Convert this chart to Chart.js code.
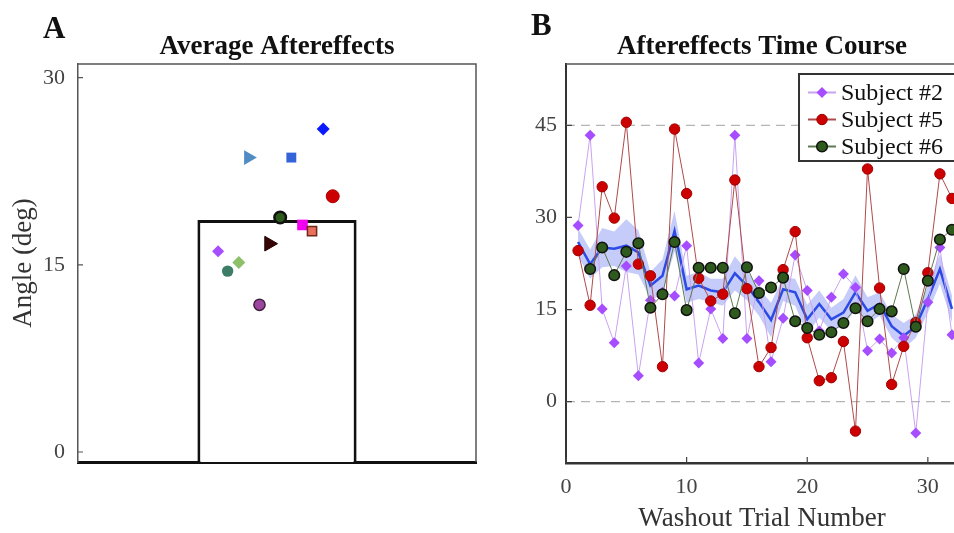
<!DOCTYPE html>
<html>
<head>
<meta charset="utf-8">
<title>Aftereffects</title>
<script src="https://cdn.jsdelivr.net/npm/chart.js@4.4.0/dist/chart.umd.min.js"></script>
<style>
  html, body { margin: 0; padding: 0; background: #fff; overflow: hidden; }
  body { width: 954px; height: 533px; position: relative; }
  canvas { position: absolute; top: 0; }
  #avgChart { left: 0; }
  #courseChart { left: 510px; }
  .panel-tag { position: absolute; font: bold 31px 'Liberation Serif', serif; line-height: 31px; color: #111; }
</style>
</head>
<body>
<canvas id="avgChart" width="500" height="533"></canvas>
<canvas id="courseChart" width="500" height="533"></canvas>
<div class="panel-tag" style="left:43px;top:12px">A</div>
<div class="panel-tag" style="left:531px;top:9px">B</div>
<script>
// ---- A: average aftereffect per subject ----
const subjectAverages = [25.9, 23.6, 23.6, 20.5, 18.8, 18.2, 17.7, 16.7, 16.1, 15.2, 14.5, 11.8];
const subjectJitter = [0.29, -0.18, 0.09, 0.35, 0.02, 0.16, 0.22, -0.05, -0.37, -0.24, -0.31, -0.11];
const groupAverage = 18.6;
const angleTicksA = [0, 15, 30];

// ---- B: washout time course ----
const trials = [1, 2, 3, 4, 5, 6, 7, 8, 9, 10, 11, 12, 13, 14, 15, 16,
  17, 18, 19, 20, 21, 22, 23, 24, 25, 26, 27, 28, 29, 30, 31, 32];
const subject2 = [28.7, 43.4, 15.1, 9.6, 22.1, 4.2, 16.5, 17.8, 17.2, 25.4, 6.3, 15.1, 10.3, 43.4, 10.3, 19.7,
  6.5, 13.6, 23.9, 18.1, 11.5, 17.0, 20.8, 18.6, 8.3, 10.2, 7.9, 10.4, -5.1, 16.2, 25.1, 10.9];
const subject5 = [24.6, 15.7, 35.0, 29.9, 45.5, 22.4, 20.5, 5.7, 44.4, 33.9, 20.1, 16.4, 17.5, 36.1, 18.4, 5.7,
  8.8, 21.5, 27.7, 10.4, 3.4, 3.9, 9.8, -4.8, 37.9, 18.5, 2.8, 9.0, 12.9, 21.0, 37.1, 33.1];
const subject6 = [null, 21.6, 25.1, 20.6, 24.4, 25.8, 15.3, 17.5, 26.0, 14.9, 21.8, 21.8, 21.8, 14.4, 21.9, 17.7,
  18.6, 20.2, 13.1, 12.0, 10.9, 11.3, 12.8, 15.2, 13.1, 15.1, 14.7, 21.6, 12.2, 19.7, 26.4, 28.0];
const meanAngle = [26.0, 22.4, 25.1, 24.9, 25.4, 24.3, 18.9, 20.5, 27.8, 18.3, 18.9, 18.1, 17.8, 20.9, 18.9, 16.2,
  13.3, 18.3, 17.8, 13.4, 15.9, 13.4, 14.5, 17.8, 14.8, 15.9, 12.3, 10.7, 12.3, 16.7, 21.6, 15.1];
const semAngle = [2.2, 2.4, 3.2, 2.8, 4.3, 3.6, 2.2, 2.7, 3.3, 2.2, 2.2, 1.9, 2.2, 2.8, 2.4, 2.2,
  2.8, 1.9, 2.2, 2.4, 2.2, 1.9, 2.2, 2.8, 2.2, 1.9, 1.9, 2.1, 1.9, 2.2, 2.4, 2.2];
const trialTicks = [0, 10, 20, 30];
const angleTicksB = [0, 15, 30, 45];
const refAngles = [0, 45];

Chart.defaults.font.family = "'Liberation Serif', 'Times New Roman', serif";
Chart.defaults.color = '#444';
Chart.defaults.animation = false;

// marker look for each subject in panel A
const markers = [
  { style: 'rectRot', r: 6.5, fill: '#0a1aff', line: '#0a1aff', w: 0, rot: 0 },
  { style: 'triangle', r: 8.5, fill: '#4f8cc4', line: '#4f8cc4', w: 0, rot: 90 },
  { style: 'rect', r: 7, fill: '#3463d9', line: '#3463d9', w: 0, rot: 0 },
  { style: 'circle', r: 6.5, fill: '#cc0000', line: '#b00000', w: 1, rot: 0 },
  { style: 'circle', r: 5.8, fill: '#2d5a1b', line: '#111', w: 2.5, rot: 0 },
  { style: 'rect', r: 7.5, fill: '#f200f2', line: '#f200f2', w: 0, rot: 0 },
  { style: 'rect', r: 6.5, fill: '#e9705a', line: '#6b2a1c', w: 1.5, rot: 0 },
  { style: 'triangle', r: 8.5, fill: '#380505', line: '#220000', w: 1, rot: 90 },
  { style: 'rectRot', r: 6, fill: '#a64dff', line: '#a64dff', w: 0, rot: 0 },
  { style: 'rectRot', r: 6.5, fill: '#8cc16a', line: '#8cc16a', w: 0, rot: 0 },
  { style: 'circle', r: 5.7, fill: '#3d7d68', line: '#3d7d68', w: 0, rot: 0 },
  { style: 'circle', r: 5.6, fill: '#9b479f', line: '#40203f', w: 1.5, rot: 0 },
];

// box around the plot plus inward tick marks
const framePlugin = {
  id: 'frame',
  afterDraw(chart, args, opts) {
    const { ctx, chartArea: a, scales } = chart;
    ctx.save();
    ctx.strokeStyle = opts.color;
    ctx.lineWidth = opts.width;
    ctx.beginPath();
    ctx.moveTo(a.left, a.top);
    ctx.lineTo(a.right, a.top);
    if (opts.right) ctx.lineTo(a.right, a.bottom);
    ctx.stroke();
    ctx.strokeStyle = opts.tickColor;
    ctx.lineWidth = 1.2;
    ctx.beginPath();
    scales.y.ticks.forEach(t => {
      const py = scales.y.getPixelForValue(t.value);
      ctx.moveTo(a.left, py);
      ctx.lineTo(a.left + opts.tickLen, py);
    });
    if (opts.xTicks) {
      scales.x.ticks.forEach(t => {
        const px = scales.x.getPixelForValue(t.value);
        ctx.moveTo(px, a.bottom);
        ctx.lineTo(px, a.bottom - opts.tickLen);
      });
    }
    ctx.stroke();
    ctx.restore();
  }
};

// dashed reference lines
const refLinePlugin = {
  id: 'refLines',
  beforeDatasetsDraw(chart, args, opts) {
    const { ctx, chartArea: a, scales } = chart;
    ctx.save();
    ctx.strokeStyle = opts.color;
    ctx.lineWidth = 1.4;
    ctx.setLineDash([9, 6]);
    opts.values.forEach(v => {
      const py = scales.y.getPixelForValue(v);
      ctx.beginPath();
      ctx.moveTo(a.left, py);
      ctx.lineTo(a.right, py);
      ctx.stroke();
    });
    ctx.restore();
  }
};

// framed legend in the upper right corner of the plot
const boxLegendPlugin = {
  id: 'boxLegend',
  afterDraw(chart, args, opts) {
    const { ctx, chartArea: a } = chart;
    const items = chart.data.datasets.filter(ds => ds.label);
    ctx.save();
    ctx.font = opts.font;
    const textW = Math.max(...items.map(ds => ctx.measureText(ds.label).width));
    const w = 42 + textW + 17;
    const h = items.length * opts.rowHeight + 6;
    const left = a.right + 2 - w;
    const top = a.top + 10;
    ctx.fillStyle = '#fff';
    ctx.fillRect(left, top, w, h);
    ctx.strokeStyle = '#333';
    ctx.lineWidth = 2;
    ctx.strokeRect(left, top, w, h);
    items.forEach((ds, i) => {
      const y = top + 5 + opts.rowHeight * (i + 0.5);
      ctx.strokeStyle = ds.borderColor;
      ctx.lineWidth = 2;
      ctx.beginPath();
      ctx.moveTo(left + 9, y);
      ctx.lineTo(left + 37, y);
      ctx.stroke();
      ctx.fillStyle = ds.pointBackgroundColor;
      ctx.strokeStyle = ds.pointBorderColor;
      ctx.lineWidth = ds.pointBorderWidth;
      Chart.helpers.drawPoint(ctx, {
        pointStyle: ds.pointStyle, radius: ds.pointRadius, borderWidth: ds.pointBorderWidth, rotation: 0
      }, left + 23, y);
      ctx.fillStyle = '#111';
      ctx.textAlign = 'left';
      ctx.textBaseline = 'middle';
      ctx.fillText(ds.label, left + 42, y + 1);
    });
    ctx.restore();
  }
};

const titleFont = { size: 27, weight: 'bold', lineHeight: 1.2 };
const tickFont = { size: 22 };
const axisTitleFont = { size: 27 };

new Chart(document.getElementById('avgChart'), {
  type: 'scatter',
  data: {
    datasets: [
      {
        type: 'scatter',
        data: subjectAverages.map((v, i) => ({ x: subjectJitter[i], y: v })),
        pointStyle: markers.map(m => m.style),
        pointRadius: markers.map(m => m.r),
        pointBackgroundColor: markers.map(m => m.fill),
        pointBorderColor: markers.map(m => m.line),
        pointBorderWidth: markers.map(m => m.w),
        pointRotation: markers.map(m => m.rot),
        order: 1
      },
      {
        type: 'bar',
        data: [{ x: 0, y: [-0.8, groupAverage] }],
        backgroundColor: '#fff',
        borderColor: '#111',
        borderWidth: 3,
        borderSkipped: 'bottom',
        categoryPercentage: 1,
        barPercentage: 0.4,
        order: 2
      }
    ]
  },
  options: {
    responsive: false,
    devicePixelRatio: 1,
    layout: { padding: { right: 24 } },
    plugins: {
      legend: { display: false },
      tooltip: { enabled: false },
      title: {
        display: true, text: 'Average Aftereffects', fullSize: false,
        color: '#111', font: titleFont, padding: { top: 31, bottom: 0.6 }
      },
      frame: { color: '#555', width: 1.5, tickColor: '#555', tickLen: 5, right: true, xTicks: false }
    },
    scales: {
      x: {
        type: 'linear', min: -1.25, max: 1.25, offset: false,
        afterBuildTicks: s => { s.ticks = [{ value: s.min }, { value: s.max }]; },
        grid: { display: false, drawTicks: false, offset: false },
        ticks: { display: false },
        border: { color: '#111', width: 3 },
        afterFit: s => { s.height = 71; }
      },
      y: {
        min: -0.8, max: 31.1,
        afterBuildTicks: s => { s.ticks = angleTicksA.map(v => ({ value: v })); },
        grid: { display: false, drawTicks: false },
        ticks: { padding: 13, font: tickFont, color: '#444' },
        border: { color: '#555', width: 1.5 },
        title: { display: true, text: 'Angle (deg)', color: '#333', font: axisTitleFont, padding: { top: 8, bottom: 0 } },
        afterFit: s => { s.width = 78; }
      }
    }
  },
  plugins: [framePlugin]
});

const xy = values => trials.map((t, i) => ({ x: t, y: values[i] }));

new Chart(document.getElementById('courseChart'), {
  type: 'line',
  data: {
    datasets: [
      {
        label: '', data: xy(meanAngle.map((m, i) => m - semAngle[i])),
        borderWidth: 0, pointRadius: 0, fill: false, order: 6
      },
      {
        label: '', data: xy(meanAngle.map((m, i) => m + semAngle[i])),
        borderWidth: 0, pointRadius: 0, fill: '-1',
        backgroundColor: 'rgba(128, 142, 242, 0.45)', order: 5
      },
      {
        label: '', data: xy(meanAngle),
        borderColor: '#2b4ae6', borderWidth: 2.5, pointRadius: 0, order: 4
      },
      {
        label: 'Subject #2', data: xy(subject2),
        borderColor: '#c9a3f0', borderWidth: 1,
        pointStyle: 'rectRot', pointRadius: 5.5, pointBackgroundColor: '#a64dff',
        pointBorderColor: '#a64dff', pointBorderWidth: 0, order: 3
      },
      {
        label: 'Subject #5', data: xy(subject5),
        borderColor: '#b04a4a', borderWidth: 1,
        pointStyle: 'circle', pointRadius: 5.2, pointBackgroundColor: '#cc0000',
        pointBorderColor: '#a00000', pointBorderWidth: 1, order: 2
      },
      {
        label: 'Subject #6', data: xy(subject6),
        borderColor: '#5d7a52', borderWidth: 1,
        pointStyle: 'circle', pointRadius: 5.3, pointBackgroundColor: '#2f5a1e',
        pointBorderColor: '#111', pointBorderWidth: 1.5, order: 1
      }
    ]
  },
  options: {
    responsive: false,
    devicePixelRatio: 1,
    layout: { padding: { right: 52 } },
    elements: { line: { tension: 0 } },
    plugins: {
      legend: { display: false },
      tooltip: { enabled: false },
      title: {
        display: true, text: 'Aftereffects Time Course', fullSize: false,
        color: '#111', font: titleFont, padding: { top: 31, bottom: 0.6 }
      },
      frame: { color: '#555', width: 1.5, tickColor: '#444', tickLen: 6, right: true, xTicks: true },
      refLines: { values: refAngles, color: '#b5b5b5' },
      boxLegend: { font: "24px 'Liberation Serif', serif", rowHeight: 27 }
    },
    scales: {
      x: {
        type: 'linear', min: 0, max: 32.5,
        afterBuildTicks: s => { s.ticks = trialTicks.map(v => ({ value: v })); },
        grid: { display: false, drawTicks: false },
        ticks: { padding: 11, font: tickFont, color: '#444' },
        border: { color: '#333', width: 2.5 },
        title: { display: true, text: 'Washout Trial Number', color: '#333', font: axisTitleFont, padding: { top: 0, bottom: -2 } },
        afterFit: s => { s.height = 70; }
      },
      y: {
        min: -10, max: 55,
        afterBuildTicks: s => { s.ticks = angleTicksB.map(v => ({ value: v })); },
        grid: { display: false, drawTicks: false },
        ticks: { padding: 9, font: tickFont, color: '#444' },
        border: { color: '#333', width: 2 },
        afterFit: s => { s.width = 56; }
      }
    }
  },
  plugins: [refLinePlugin, framePlugin, boxLegendPlugin]
});
</script>
</body>
</html>
